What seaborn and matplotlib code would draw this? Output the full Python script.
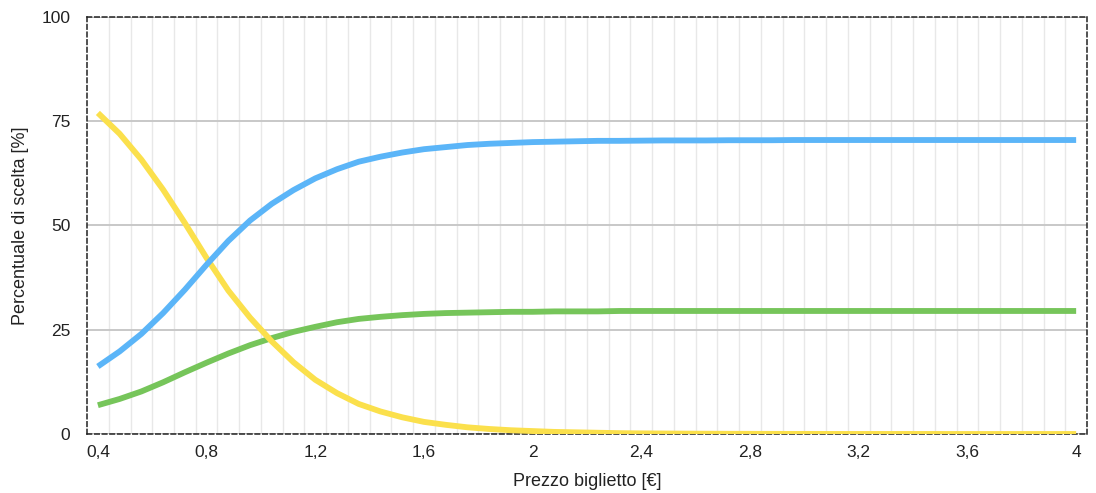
import numpy as np
import pandas as pd
import matplotlib
matplotlib.use("Agg")
import matplotlib.pyplot as plt
import seaborn as sns

# Prezzo biglietto [€] (passo 0,08)
prezzo = [round(0.40 + 0.08 * i, 2) for i in range(46)]

# Percentuale di scelta [%]
giallo = [77.0, 72.0, 65.8, 58.6, 50.6, 42.2, 34.4, 27.9, 22.2, 17.2,
          13.0, 9.8, 7.2, 5.4, 4.0, 2.9, 2.2, 1.6, 1.2, 0.9,
          0.7, 0.5, 0.4, 0.3, 0.2, 0.15, 0.12, 0.09, 0.07, 0.05,
          0.04, 0.03, 0.02, 0.02, 0.01, 0.01, 0.01, 0.01, 0.01, 0.0,
          0.0, 0.0, 0.0, 0.0, 0.0, 0.0]
blu = [16.2, 19.8, 24.0, 29.0, 34.6, 40.6, 46.3, 51.2, 55.2, 58.5,
       61.3, 63.5, 65.3, 66.5, 67.5, 68.3, 68.8, 69.3, 69.6, 69.8,
       70.0, 70.1, 70.2, 70.3, 70.3, 70.35, 70.4, 70.4, 70.4, 70.45,
       70.45, 70.45, 70.5, 70.5, 70.5, 70.5, 70.5, 70.5, 70.5, 70.5,
       70.5, 70.5, 70.5, 70.5, 70.5, 70.5]
verde = [6.9, 8.4, 10.2, 12.4, 14.8, 17.1, 19.3, 21.3, 23.0, 24.5,
         25.7, 26.8, 27.6, 28.1, 28.5, 28.8, 29.0, 29.1, 29.2, 29.3,
         29.3, 29.4, 29.4, 29.4, 29.5, 29.5, 29.5, 29.5, 29.5, 29.5,
         29.5, 29.5, 29.5, 29.5, 29.5, 29.5, 29.5, 29.5, 29.5, 29.5,
         29.5, 29.5, 29.5, 29.5, 29.5, 29.5]

df = pd.DataFrame({"prezzo": prezzo, "verde": verde, "giallo": giallo, "blu": blu})
df = df.melt(id_vars="prezzo", var_name="serie", value_name="quota")

colori = {"verde": "#76C55A", "giallo": "#FBE04C", "blu": "#5BB5F8"}

sns.set_theme(style="white")
plt.rcParams["font.family"] = ["Liberation Sans", "DejaVu Sans"]

fig = plt.figure(figsize=(10.96, 4.93), dpi=100)
ax = fig.add_axes([0.0794, 0.1197, 0.9124, 0.8458])

sns.lineplot(data=df, x="prezzo", y="quota", hue="serie",
             hue_order=["verde", "giallo", "blu"], palette=colori,
             linewidth=4.2, legend=False, ax=ax, zorder=3,
             solid_capstyle="butt", solid_joinstyle="round")

ax.set_xlim(0.36, 4.04)
ax.set_ylim(0, 100)

xt = np.arange(0.4, 4.01, 0.4)
ax.set_xticks(xt)
ax.set_xticklabels([f"{v:g}".replace(".", ",") for v in np.round(xt, 1)])
ax.set_xticks(np.arange(0.44, 4.0, 0.08), minor=True)
ax.set_yticks([0, 25, 50, 75, 100])

ax.grid(False)
ax.grid(which="minor", axis="x", color="#e8e8e8", linewidth=1.0)
ax.grid(which="major", axis="y", color="#c8c8c8", linewidth=1.4)
ax.set_axisbelow(True)

ax.tick_params(which="both", length=0)
ax.tick_params(axis="x", pad=8, labelsize=12.5, labelcolor="#222222")
ax.tick_params(axis="y", pad=12, labelsize=12.5, labelcolor="#222222")

for s in ax.spines.values():
    s.set_visible(True)
    s.set_linestyle((0, (3, 2)))
    s.set_color("#222222")
    s.set_linewidth(1.1)

ax.set_xlabel("Prezzo biglietto [€]", fontsize=13, color="#222222", labelpad=9)
ax.set_ylabel("Percentuale di scelta [%]", fontsize=13, color="#222222", labelpad=9)

fig.savefig("out.png", dpi=100)
